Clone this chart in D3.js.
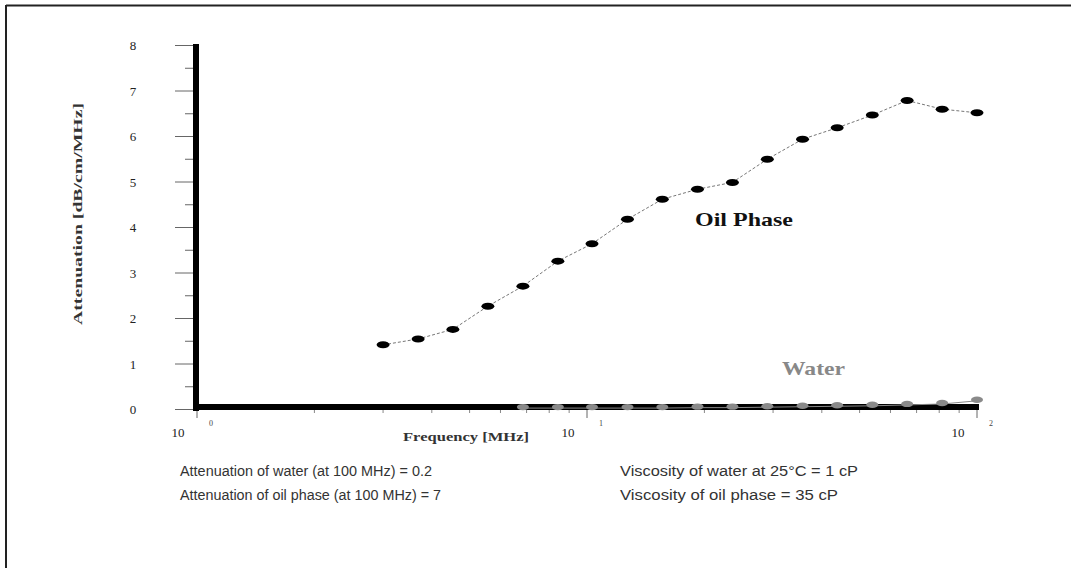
<!DOCTYPE html>
<html>
<head>
<meta charset="utf-8">
<script src="https://cdn.jsdelivr.net/npm/d3@7"></script>
<style>
  html, body { margin: 0; padding: 0; background: #fff; }
  svg { display: block; }
</style>
</head>
<body>
<svg id="chart" width="1071" height="568"></svg>
<script>
// ---- data ----
const frequencies = [3.0, 3.69, 4.53, 5.57, 6.85, 8.42, 10.3, 12.7, 15.6, 19.2, 23.6, 29.0, 35.7, 43.8, 53.9, 66.2, 81.4, 100];
const oilAttenuation = [1.41, 1.54, 1.75, 2.26, 2.70, 3.25, 3.63, 4.17, 4.61, 4.83, 4.98, 5.49, 5.93, 6.18, 6.46, 6.78, 6.59, 6.51];
const waterFrequencies = [6.85, 8.42, 10.3, 12.7, 15.6, 19.2, 23.6, 29.0, 35.7, 43.8, 53.9, 66.2, 81.4, 100];
const waterAttenuation = [0.02, 0.02, 0.02, 0.02, 0.02, 0.03, 0.03, 0.04, 0.05, 0.06, 0.07, 0.09, 0.11, 0.18];
const yTicks = [0, 1, 2, 3, 4, 5, 6, 7, 8];
const yMinorTicks = [0.5, 1.5, 2.5, 3.5, 4.5, 5.5, 6.5, 7.5];
const xDecades = [1, 10, 100];
const xDecadeExponents = ["0", "1", "2"];
const xMinorTicks = [2, 3, 4, 5, 6, 7, 8, 9, 20, 30, 40, 50, 60, 70, 80, 90];
const yTitle = "Attenuation [dB/cm/MHz]";
const xTitle = "Frequency [MHz]";
const notesLeft = ["Attenuation of water (at 100 MHz) = 0.2", "Attenuation of oil phase (at 100 MHz) = 7"];
const notesRight = ["Viscosity of water at 25°C = 1 cP", "Viscosity of oil phase = 35 cP"];

// ---- drawing ----
const svg = d3.select("#chart");
const serif = "'Liberation Serif', 'Times New Roman', serif";
const sans = "'Liberation Sans', Arial, sans-serif";

// frame (top and left edges visible)
svg.append("line").attr("x1", 6).attr("x2", 1071).attr("y1", 5.5).attr("y2", 5.5)
  .attr("stroke", "#222").attr("stroke-width", 2);
svg.append("line").attr("x1", 6).attr("x2", 6).attr("y1", 5).attr("y2", 568)
  .attr("stroke", "#222").attr("stroke-width", 2);

const x = d3.scaleLog().domain([1, 100]).range([197, 977]);
const y = d3.scaleLinear().domain([0, 8]).range([409, 45]);

// y ticks
svg.selectAll(".ymaj").data(yTicks).join("line")
  .attr("x1", 175).attr("x2", 196)
  .attr("y1", d => y(d) + 0.5).attr("y2", d => y(d) + 0.5)
  .attr("stroke", "#666").attr("stroke-width", 1);
svg.selectAll(".ymin").data(yMinorTicks).join("line")
  .attr("x1", 185).attr("x2", 196)
  .attr("y1", d => y(d) + 0.5).attr("y2", d => y(d) + 0.5)
  .attr("stroke", "#666").attr("stroke-width", 1);
svg.selectAll(".ylab").data(yTicks).join("text")
  .attr("x", 133).attr("y", d => y(d) + 5)
  .attr("text-anchor", "middle")
  .attr("font-family", serif).attr("font-size", 13).attr("fill", "#222")
  .text(d => d);

// x ticks
svg.selectAll(".xmin").data(xMinorTicks).join("line")
  .attr("x1", d => x(d)).attr("x2", d => x(d))
  .attr("y1", 409).attr("y2", 413)
  .attr("stroke", "#888").attr("stroke-width", 1);
svg.selectAll(".xmaj").data(xDecades).join("line")
  .attr("x1", d => x(d)).attr("x2", d => x(d))
  .attr("y1", 409).attr("y2", 418)
  .attr("stroke", "#666").attr("stroke-width", 1);
svg.selectAll(".xlab").data(xDecades).join("text")
  .attr("x", d => x(d) - 19).attr("y", 437)
  .attr("text-anchor", "middle")
  .attr("font-family", serif).attr("font-size", 13).attr("fill", "#222")
  .text("10");
svg.selectAll(".xexp").data(xDecades).join("text")
  .attr("x", (d, i) => x(d) + 14).attr("y", 426)
  .attr("text-anchor", "middle")
  .attr("font-family", serif).attr("font-size", 8).attr("fill", "#444")
  .text((d, i) => xDecadeExponents[i]);

// thick axes
svg.append("rect").attr("x", 193).attr("y", 44).attr("width", 6).attr("height", 367).attr("fill", "#000");
svg.append("rect").attr("x", 193).attr("y", 404).attr("width", x(100) - 193 + 2).attr("height", 6).attr("fill", "#000");

// axis titles
svg.append("text")
  .attr("transform", "translate(82,214) rotate(-90)")
  .attr("text-anchor", "middle")
  .attr("font-family", serif).attr("font-weight", "bold").attr("font-size", 13).attr("fill", "#333")
  .attr("textLength", 222).attr("lengthAdjust", "spacingAndGlyphs")
  .text(yTitle);
svg.append("text")
  .attr("x", 466).attr("y", 441)
  .attr("text-anchor", "middle")
  .attr("font-family", serif).attr("font-weight", "bold").attr("font-size", 13).attr("fill", "#333")
  .attr("textLength", 126).attr("lengthAdjust", "spacingAndGlyphs")
  .text(xTitle);

// water series
const waterData = waterFrequencies.map((f, i) => ({f, v: waterAttenuation[i]}));
const line = d3.line().x(d => x(d.f)).y(d => y(d.v));
svg.append("path").datum(waterData).attr("d", line)
  .attr("fill", "none").attr("stroke", "#888").attr("stroke-width", 1);
svg.selectAll(".wdot").data(waterData).join("ellipse")
  .attr("cx", d => x(d.f)).attr("cy", d => y(d.v) - 1)
  .attr("rx", 6).attr("ry", 3.2).attr("fill", "#8a8a8a");

// oil series
const oilData = frequencies.map((f, i) => ({f, v: oilAttenuation[i]}));
svg.append("path").datum(oilData).attr("d", line)
  .attr("fill", "none").attr("stroke", "#777").attr("stroke-width", 1)
  .attr("stroke-dasharray", "3,2");
svg.selectAll(".odot").data(oilData).join("ellipse")
  .attr("cx", d => x(d.f)).attr("cy", d => y(d.v))
  .attr("rx", 6.5).attr("ry", 3.5).attr("fill", "#000");

// series labels
svg.append("text").attr("x", 695).attr("y", 226)
  .attr("font-family", serif).attr("font-weight", "bold").attr("font-size", 19).attr("fill", "#111")
  .attr("textLength", 98).attr("lengthAdjust", "spacingAndGlyphs")
  .text("Oil Phase");
svg.append("text").attr("x", 782).attr("y", 375)
  .attr("font-family", serif).attr("font-weight", "bold").attr("font-size", 19).attr("fill", "#888")
  .attr("textLength", 63).attr("lengthAdjust", "spacingAndGlyphs")
  .text("Water");

// notes
const leftLens = [252, 261];
const rightLens = [238, 218];
svg.selectAll(".nl").data(notesLeft).join("text")
  .attr("x", 180).attr("y", (d, i) => 476 + i * 24)
  .attr("font-family", sans).attr("font-size", 15.5).attr("fill", "#333")
  .attr("textLength", (d, i) => leftLens[i]).attr("lengthAdjust", "spacingAndGlyphs")
  .text(d => d);
svg.selectAll(".nr").data(notesRight).join("text")
  .attr("x", 620).attr("y", (d, i) => 476 + i * 24)
  .attr("font-family", sans).attr("font-size", 15.5).attr("fill", "#333")
  .attr("textLength", (d, i) => rightLens[i]).attr("lengthAdjust", "spacingAndGlyphs")
  .text(d => d);
</script>
</body>
</html>
